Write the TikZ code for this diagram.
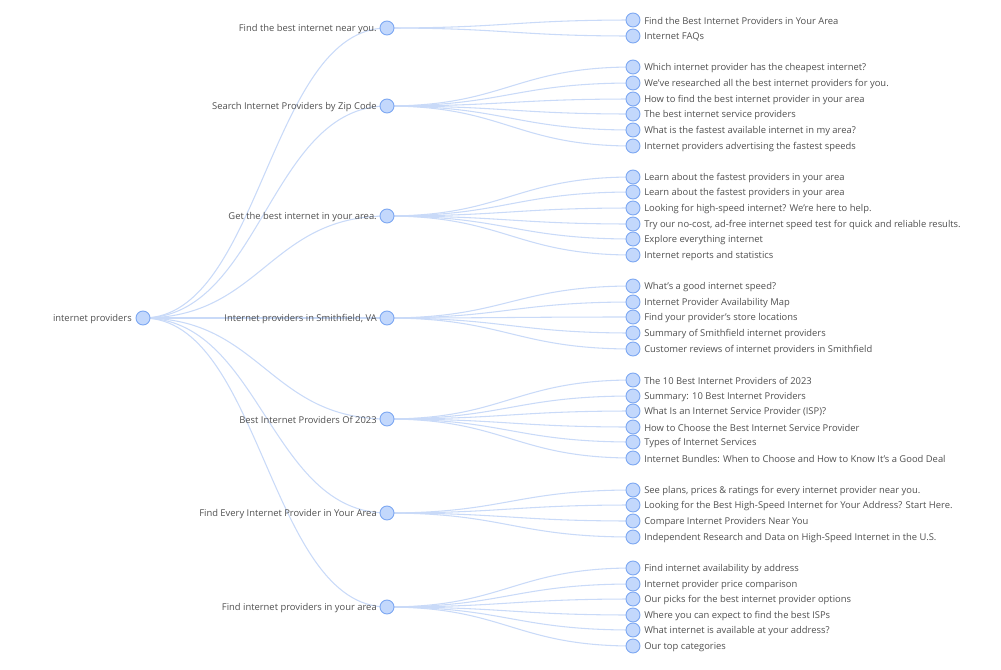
\documentclass[tikz,border=0pt]{standalone}
\usepackage{fontspec}
\setmainfont{Open Sans}
\usetikzlibrary{backgrounds}
\definecolor{edge}{HTML}{C9DAF8}
\definecolor{dotfill}{HTML}{C3D8FC}
\definecolor{dotline}{HTML}{7DA8F2}
\definecolor{txt}{HTML}{505050}
\begin{document}
\begin{tikzpicture}[x=0.75pt,y=-0.75pt,
  dot/.style={circle,draw=dotline,fill=dotfill,line width=0.7pt,minimum size=10.5pt,inner sep=0pt},
  lbl/.style={font=\fontsize{7.05}{8}\selectfont,text=txt,inner sep=0pt},
  link/.style={draw=edge,line width=0.8pt}]
\useasboundingbox (0,0) rectangle (1001,669);
% root
\node[dot] (r) at (143,318) {};
\node[lbl,anchor=east] (rl) at (132,319) {internet providers};
% level 1
\foreach \i/\y/\t in {1/28/Find the best internet near you.,
  2/106/Search Internet Providers by Zip Code,
  3/216/Get the best internet in your area.,
  4/318/{Internet providers in Smithfield, VA},
  5/419/Best Internet Providers Of 2023,
  6/513/Find Every Internet Provider in Your Area,
  7/607/Find internet providers in your area}{
  \node[dot] (a\i) at (387,\y) {};
  \node[lbl,anchor=east] (al\i) at (377,\y+1) {\t};
}
% level 2
\foreach \p/\j/\y/\t in {
  1/1/20/Find the Best Internet Providers in Your Area,
  1/2/36/Internet FAQs,
  2/1/67/Which internet provider has the cheapest internet?,
  2/2/83/We’ve researched all the best internet providers for you.,
  2/3/99/How to find the best internet provider in your area,
  2/4/114/The best internet service providers,
  2/5/130/What is the fastest available internet in my area?,
  2/6/146/Internet providers advertising the fastest speeds,
  3/1/177/Learn about the fastest providers in your area,
  3/2/192/Learn about the fastest providers in your area,
  3/3/208/Looking for high-speed internet? We’re here to help.,
  3/4/224/{Try our no-cost, ad-free internet speed test for quick and reliable results.},
  3/5/239/Explore everything internet,
  3/6/255/Internet reports and statistics,
  4/1/286/What’s a good internet speed?,
  4/2/302/Internet Provider Availability Map,
  4/3/317/Find your provider’s store locations,
  4/4/333/Summary of Smithfield internet providers,
  4/5/349/Customer reviews of internet providers in Smithfield,
  5/1/380/The 10 Best Internet Providers of 2023,
  5/2/396/Summary: 10 Best Internet Providers,
  5/3/411/What Is an Internet Service Provider (ISP)?,
  5/4/427/How to Choose the Best Internet Service Provider,
  5/5/442/Types of Internet Services,
  5/6/458/Internet Bundles: When to Choose and How to Know It’s a Good Deal,
  6/1/490/{See plans, prices \& ratings for every internet provider near you.},
  6/2/505/Looking for the Best High-Speed Internet for Your Address? Start Here.,
  6/3/521/Compare Internet Providers Near You,
  6/4/537/Independent Research and Data on High-Speed Internet in the U.S.,
  7/1/568/Find internet availability by address,
  7/2/584/Internet provider price comparison,
  7/3/599/Our picks for the best internet provider options,
  7/4/615/Where you can expect to find the best ISPs,
  7/5/630/What internet is available at your address?,
  7/6/646/Our top categories}{
  \node[dot] (b\p-\j) at (633,\y) {};
  \node[lbl,anchor=west] (bl\p-\j) at (644,\y+1) {\t};
  \begin{pgfonlayer}{background}
    \draw[link] (a\p.center) .. controls +(118,0) and +(-118,0) .. (b\p-\j.center);
  \end{pgfonlayer}
}
\begin{pgfonlayer}{background}
\foreach \i in {1,...,7}{
  \draw[link] (r.center) .. controls +(118,0) and +(-118,0) .. (a\i.center);
}
\end{pgfonlayer}
\end{tikzpicture}
\end{document}
